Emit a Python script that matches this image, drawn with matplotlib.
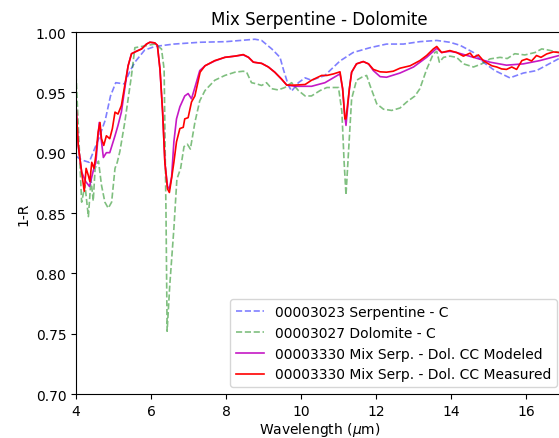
import matplotlib.pyplot as plt
import numpy as np

# Serpentine (blue dashed)
serp_x = [4.0, 4.15, 4.35, 4.61, 4.78, 4.92, 5.06, 5.29, 5.43, 5.57, 5.83, 6.1, 6.61, 7.31,
          8.0, 8.77, 8.95, 9.22, 9.44, 9.53, 9.66, 9.75, 9.93, 10.11, 10.28, 10.64,
          10.77, 11.04, 11.39, 11.84, 12.28, 12.73, 13.17, 13.62, 13.97, 14.24, 14.6,
          14.86, 15.17, 15.57, 15.93, 16.28, 16.64, 16.88]
serp_y = [0.897, 0.894, 0.892, 0.912, 0.927, 0.947, 0.958, 0.957, 0.967, 0.975, 0.985, 0.988, 0.990, 0.9915,
          0.992, 0.994, 0.993, 0.986, 0.979, 0.969, 0.956, 0.951, 0.958, 0.962, 0.960, 0.964,
          0.968, 0.976, 0.983, 0.987, 0.990, 0.990, 0.992, 0.993, 0.9915, 0.989, 0.983,
          0.975, 0.968, 0.962, 0.966, 0.968, 0.974, 0.978]

# Dolomite (green dashed)
dolo_x = [4.0, 4.05, 4.15, 4.24, 4.33, 4.4, 4.46, 4.51, 4.6, 4.68, 4.77, 4.86, 4.95, 5.04, 5.1,
          5.17, 5.3, 5.48, 5.57, 5.75, 6.1, 6.28, 6.35, 6.4, 6.43, 6.5, 6.61, 6.69, 6.79, 6.88,
          6.97, 7.05, 7.17, 7.3, 7.44, 7.7, 7.97, 8.24, 8.46, 8.55, 8.68, 8.82, 8.95, 9.08,
          9.22, 9.39, 9.57, 9.75, 9.93, 10.11, 10.28, 10.51, 10.69, 11.0, 11.09, 11.15, 11.2,
          11.26, 11.35, 11.48, 11.62, 11.75, 11.84, 12.02, 12.2, 12.42, 12.64, 12.82, 13.04,
          13.17, 13.35, 13.53, 13.62, 13.69, 13.8, 13.97, 14.15, 14.33, 14.6, 14.82, 15.04,
          15.31, 15.5, 15.7, 15.97, 16.24, 16.42, 16.6, 16.88]
dolo_y = [0.965, 0.93, 0.859, 0.873, 0.847, 0.878, 0.860, 0.887, 0.893, 0.873, 0.859, 0.854, 0.859, 0.887, 0.892,
          0.901, 0.925, 0.964, 0.987, 0.988, 0.990, 0.986, 0.969, 0.85, 0.752, 0.79, 0.837, 0.878, 0.887, 0.905,
          0.907, 0.903, 0.925, 0.943, 0.9515, 0.960, 0.964, 0.9667, 0.9675, 0.9667, 0.958, 0.957, 0.9557, 0.958,
          0.953, 0.952, 0.954, 0.958, 0.9515, 0.947, 0.947, 0.9515, 0.954, 0.954, 0.934, 0.892, 0.865,
          0.897, 0.9446, 0.960, 0.9625, 0.964, 0.9557, 0.9405, 0.936, 0.935, 0.937, 0.942, 0.947,
          0.953, 0.969, 0.982, 0.984, 0.975, 0.979, 0.980, 0.979, 0.9736, 0.971, 0.9736, 0.9777,
          0.979, 0.978, 0.982, 0.981, 0.983, 0.986, 0.985, 0.983]

# Mix modeled (magenta)
mod_x = [4.0, 4.06, 4.15, 4.26, 4.36, 4.46, 4.53, 4.62, 4.73, 4.81, 4.9, 5.04, 5.12, 5.21, 5.3,
         5.39, 5.48, 5.61, 5.75, 5.88, 5.97, 6.1, 6.17, 6.24, 6.31, 6.37, 6.44, 6.49, 6.55,
         6.61, 6.68, 6.77, 6.9, 6.99, 7.08, 7.17, 7.3, 7.44, 7.7, 7.97, 8.24, 8.46, 8.6, 8.73,
         8.95, 9.13, 9.3, 9.48, 9.62, 9.84, 10.11, 10.28, 10.64, 11.04, 11.11, 11.17, 11.2,
         11.29, 11.35, 11.48, 11.66, 11.8, 11.93, 12.11, 12.28, 12.64, 13.0, 13.35, 13.62,
         13.75, 13.97, 14.15, 14.6, 15.04, 15.48, 15.93, 16.37, 16.88]
mod_y = [0.94, 0.906, 0.884, 0.876, 0.872, 0.885, 0.892, 0.925, 0.896, 0.900, 0.900, 0.914, 0.9226, 0.9336, 0.953,
         0.972, 0.982, 0.984, 0.986, 0.990, 0.9915, 0.991, 0.989, 0.969, 0.9336, 0.892, 0.872, 0.870, 0.880,
         0.909, 0.928, 0.938, 0.947, 0.949, 0.9446, 0.954, 0.968, 0.972, 0.976, 0.979, 0.980, 0.981, 0.979, 0.975,
         0.974, 0.971, 0.9667, 0.961, 0.956, 0.955, 0.955, 0.955, 0.958, 0.9653, 0.953, 0.93, 0.9226,
         0.953, 0.9667, 0.9736, 0.9755, 0.9736, 0.968, 0.963, 0.9625, 0.966, 0.971, 0.979, 0.9865,
         0.983, 0.984, 0.983, 0.979, 0.975, 0.9725, 0.9736, 0.9763, 0.9805]

# Mix measured (red)
meas_x = [4.0, 4.06, 4.15, 4.22, 4.27, 4.33, 4.37, 4.42, 4.48, 4.53, 4.59, 4.64, 4.68, 4.74,
          4.81, 4.9, 4.97, 5.04, 5.12, 5.21, 5.3, 5.39, 5.48, 5.61, 5.75, 5.88, 5.97, 6.1,
          6.17, 6.24, 6.31, 6.37, 6.44, 6.49, 6.55, 6.61, 6.68, 6.77, 6.86, 6.9, 6.99, 7.08,
          7.17, 7.31, 7.44, 7.7, 7.97, 8.24, 8.46, 8.6, 8.73, 8.95, 9.13, 9.3, 9.48, 9.62,
          9.84, 10.11, 10.28, 10.55, 10.69, 10.87, 11.04, 11.11, 11.17, 11.2, 11.29, 11.35,
          11.48, 11.66, 11.8, 11.93, 12.11, 12.28, 12.46, 12.64, 12.91, 13.17, 13.35, 13.53,
          13.62, 13.75, 13.97, 14.15, 14.33, 14.51, 14.6, 14.73, 14.86, 15.0, 15.09, 15.22,
          15.35, 15.48, 15.62, 15.75, 15.89, 16.02, 16.15, 16.28, 16.4, 16.55, 16.73, 16.88]
meas_y = [0.939, 0.906, 0.884, 0.868, 0.887, 0.881, 0.876, 0.892, 0.887, 0.898, 0.917, 0.925, 0.9116, 0.906,
          0.914, 0.9116, 0.920, 0.9336, 0.932, 0.939, 0.9557, 0.972, 0.982, 0.984, 0.986, 0.990, 0.9915, 0.991,
          0.989, 0.969, 0.9336, 0.892, 0.870, 0.867, 0.879, 0.892, 0.909, 0.920, 0.921, 0.928, 0.929, 0.942,
          0.947, 0.9667, 0.972, 0.9763, 0.979, 0.980, 0.9813, 0.979, 0.975, 0.974, 0.971, 0.9667, 0.961, 0.956,
          0.956, 0.9565, 0.960, 0.964, 0.964, 0.9653, 0.967, 0.953, 0.928, 0.928, 0.953, 0.9667,
          0.9736, 0.9755, 0.9736, 0.969, 0.967, 0.9667, 0.9675, 0.970, 0.972, 0.9763, 0.9805, 0.986,
          0.988, 0.983, 0.9846, 0.983, 0.980, 0.9825, 0.979, 0.981, 0.9763, 0.9736, 0.972, 0.971,
          0.9694, 0.969, 0.971, 0.969, 0.9763, 0.9777, 0.976, 0.9805, 0.979, 0.9818, 0.9835, 0.983]

labels = ["00003023 Serpentine - C", "00003027 Dolomite - C",
          "00003330 Mix Serp. - Dol. CC Modeled", "00003330 Mix Serp. - Dol. CC Measured"]

fig = plt.figure(figsize=(5.59, 4.39), dpi=100)
ax = fig.add_axes([76 / 559, 44 / 439, 487.5 / 559, 362 / 439])

ax.plot(serp_x, serp_y, "--", color="b", alpha=0.5, linewidth=1.2, label=labels[0])
ax.plot(dolo_x, dolo_y, "--", color="g", alpha=0.5, linewidth=1.2, label=labels[1])
ax.plot(mod_x, mod_y, color="m", alpha=0.9, linewidth=1.2, label=labels[2])
ax.plot(meas_x, meas_y, color="r", linewidth=1.2, label=labels[3])

ax.set_xlim(4, 17)
ax.set_ylim(0.70, 1.00)
ax.set_xticks([4, 6, 8, 10, 12, 14, 16])
ax.set_yticks(np.arange(0.70, 1.001, 0.05))
ax.yaxis.set_major_formatter(plt.FormatStrFormatter("%.2f"))
ax.set_title("Mix Serpentine - Dolomite")
ax.set_xlabel("Wavelength ($\\mu$m)", labelpad=2)
ax.set_ylabel("1-R")
ax.legend(loc="lower right")

fig.savefig("out.png", dpi=100)
